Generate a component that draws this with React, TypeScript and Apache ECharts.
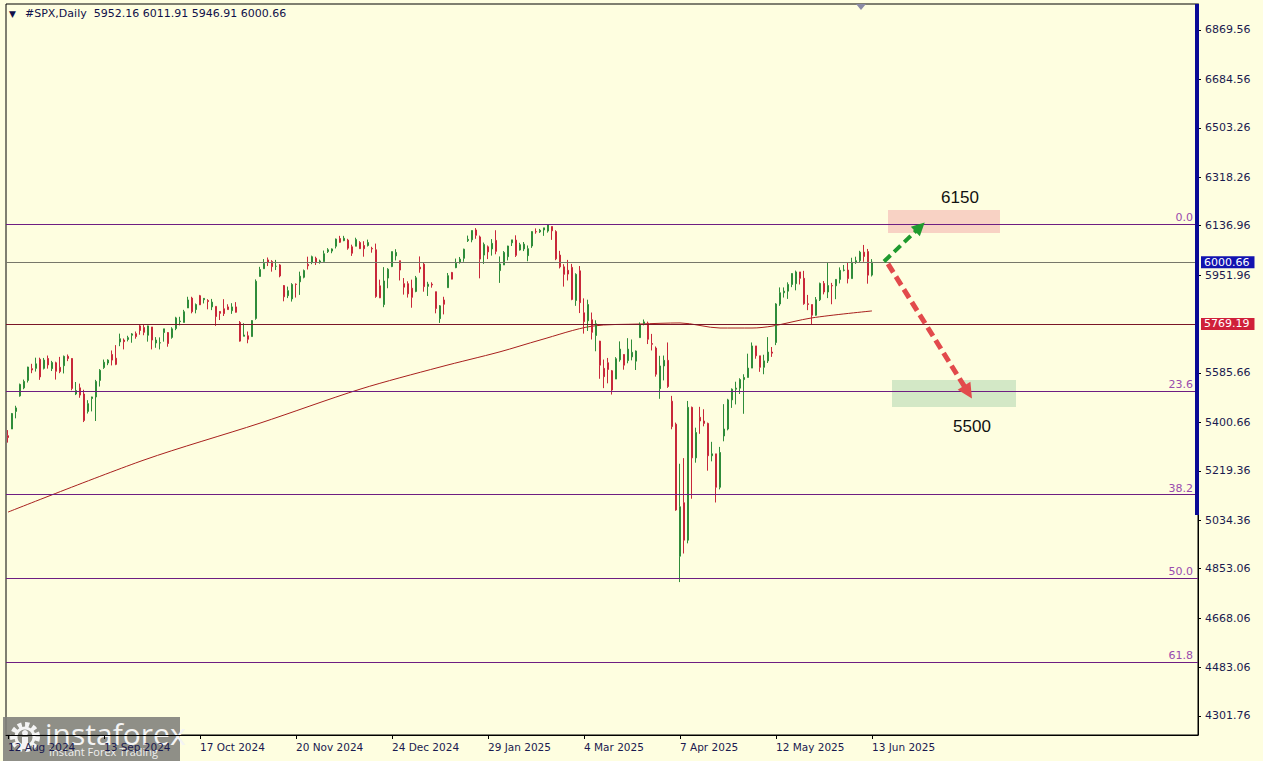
import React, { useEffect, useRef } from 'react';
import * as echarts from 'echarts';

// ---------- DATA (open, high, low, close) ----------
const aug2024 = [
  [5351, 5372, 5325, 5344], [5376, 5436, 5376, 5434], [5442, 5463, 5416, 5455], [5500, 5546, 5497, 5543],
  [5530, 5561, 5525, 5554], [5558, 5609, 5550, 5608], [5602, 5620, 5585, 5597], [5603, 5643, 5591, 5620],
  [5637, 5643, 5560, 5571], [5603, 5642, 5599, 5634], [5640, 5651, 5602, 5616], [5602, 5631, 5593, 5625],
  [5624, 5628, 5561, 5592], [5607, 5646, 5585, 5591], [5613, 5651, 5584, 5648],
];
const sep2024 = [
  [5648, 5655, 5630, 5640], [5640, 5641, 5521, 5528], [5507, 5552, 5503, 5520], [5530, 5546, 5493, 5503],
  [5507, 5523, 5402, 5408], [5442, 5484, 5434, 5471], [5490, 5497, 5442, 5496], [5496, 5560, 5406, 5554],
  [5558, 5600, 5535, 5596], [5606, 5636, 5601, 5626], [5623, 5637, 5615, 5634], [5655, 5670, 5614, 5634],
  [5641, 5690, 5615, 5618], [5702, 5733, 5686, 5714], [5709, 5715, 5674, 5703], [5711, 5725, 5704, 5718],
  [5727, 5735, 5699, 5732], [5733, 5741, 5714, 5722], [5762, 5767, 5729, 5745], [5756, 5765, 5727, 5738],
  [5727, 5763, 5703, 5762],
];
const oct2024 = [
  [5758, 5758, 5674, 5709], [5698, 5720, 5680, 5709], [5698, 5719, 5674, 5699], [5737, 5751, 5703, 5751],
  [5737, 5739, 5684, 5696], [5719, 5757, 5714, 5751], [5752, 5796, 5746, 5792], [5778, 5796, 5764, 5780],
  [5775, 5822, 5775, 5815], [5829, 5871, 5829, 5859], [5866, 5871, 5809, 5815], [5823, 5846, 5809, 5842],
  [5875, 5878, 5840, 5841], [5860, 5866, 5846, 5865], [5857, 5862, 5824, 5853], [5833, 5863, 5821, 5851],
  [5835, 5835, 5762, 5797], [5816, 5817, 5784, 5809], [5826, 5862, 5799, 5808], [5833, 5843, 5823, 5823],
  [5819, 5847, 5807, 5833], [5833, 5851, 5812, 5813], [5775, 5780, 5703, 5705],
];
const nov2024 = [
  [5723, 5772, 5723, 5728], [5725, 5741, 5697, 5712], [5722, 5783, 5722, 5782], [5790, 5936, 5785, 5929],
  [5947, 5983, 5947, 5973], [5976, 6012, 5976, 5996], [6009, 6018, 5986, 6001], [6003, 6008, 5965, 5984],
  [5985, 6009, 5971, 5985], [5990, 5993, 5944, 5949], [5913, 5915, 5854, 5871], [5875, 5909, 5866, 5894],
  [5863, 5922, 5853, 5917], [5918, 5921, 5868, 5917], [5927, 5965, 5878, 5948], [5944, 5973, 5940, 5969],
  [5992, 6021, 5973, 5987], [6000, 6025, 5993, 6021], [6015, 6021, 5990, 5999], [5999, 6010, 5995, 6005],
  [6003, 6044, 6003, 6032],
];
const dec2024 = [
  [6040, 6053, 6035, 6047], [6042, 6052, 6034, 6050], [6060, 6089, 6052, 6087], [6089, 6099, 6073, 6075],
  [6081, 6099, 6079, 6090], [6083, 6088, 6047, 6053], [6058, 6066, 6024, 6034], [6060, 6092, 6060, 6085],
  [6074, 6079, 6051, 6051], [6063, 6079, 6021, 6051], [6063, 6085, 6059, 6074], [6052, 6058, 6036, 6050],
  [6047, 6070, 5867, 5872], [5912, 5935, 5866, 5867], [5842, 5982, 5832, 5930], [5941, 5978, 5903, 5974],
  [5984, 6040, 5982, 6040], [6024, 6049, 6007, 6037], [6006, 6006, 5932, 5971], [5920, 5941, 5879, 5907],
  [5920, 5929, 5868, 5882],
];
const jan2025 = [
  [5903, 5935, 5830, 5869], [5891, 5949, 5888, 5942], [5982, 6022, 5961, 5975], [5993, 6001, 5890, 5909],
  [5910, 5927, 5874, 5918], [5918, 5925, 5905, 5915], [5890, 5890, 5809, 5827], [5789, 5840, 5773, 5837],
  [5859, 5871, 5805, 5843], [5905, 5960, 5905, 5950], [5962, 5964, 5938, 5937], [5980, 6014, 5978, 5997],
  [6000, 6020, 5995, 6012], [6015, 6051, 6002, 6049], [6081, 6100, 6076, 6086], [6084, 6119, 6075, 6119],
  [6121, 6128, 6088, 6101], [6095, 6100, 5940, 6012], [6027, 6074, 5994, 6067], [6058, 6063, 6012, 6039],
  [6050, 6087, 6025, 6071], [6082, 6120, 6030, 6041],
];
const feb2025 = [
  [5969, 6022, 5923, 5994], [5990, 6042, 5990, 6037], [6021, 6062, 6007, 6061], [6073, 6084, 6061, 6084],
  [6083, 6101, 6020, 6026], [6046, 6073, 6044, 6066], [6050, 6076, 6042, 6068], [6025, 6063, 6004, 6051],
  [6061, 6116, 6054, 6115], [6115, 6127, 6107, 6114], [6114, 6125, 6110, 6120], [6121, 6129, 6099, 6129],
  [6117, 6143, 6111, 6141], [6134, 6134, 6084, 6118], [6115, 6120, 6008, 6013], [6027, 6043, 5977, 5983],
  [5983, 5993, 5909, 5955], [5970, 6009, 5932, 5956], [5981, 5994, 5858, 5861], [5857, 5959, 5837, 5955],
];
const mar2025 = [
  [5968, 5986, 5810, 5849], [5811, 5865, 5733, 5778], [5781, 5860, 5743, 5842], [5785, 5812, 5711, 5738],
  [5726, 5783, 5667, 5770], [5705, 5706, 5564, 5615], [5603, 5636, 5529, 5572], [5624, 5642, 5547, 5599],
  [5594, 5597, 5505, 5522], [5563, 5645, 5563, 5639], [5635, 5704, 5628, 5675], [5655, 5656, 5598, 5615],
  [5632, 5716, 5622, 5675], [5646, 5711, 5633, 5663], [5630, 5670, 5597, 5668], [5718, 5775, 5718, 5767],
  [5771, 5786, 5764, 5777], [5772, 5778, 5694, 5712], [5696, 5732, 5670, 5693], [5679, 5685, 5572, 5581],
  [5527, 5650, 5489, 5612],
];
const apr2025 = [
  [5612, 5651, 5558, 5633], [5633, 5700, 5530, 5535], [5480, 5500, 5375, 5385], [5394, 5400, 5070, 5073],
  [4900, 5246, 4803, 5085], [5100, 5267, 4910, 4960], [4960, 5481, 4948, 5457], [5457, 5460, 5115, 5268],
  [5268, 5381, 5250, 5363], [5420, 5459, 5358, 5406], [5406, 5450, 5386, 5397], [5397, 5400, 5220, 5276],
  [5276, 5328, 5255, 5283], [5283, 5283, 5101, 5158], [5158, 5309, 5150, 5288], [5350, 5469, 5330, 5376],
  [5376, 5489, 5371, 5485], [5485, 5528, 5455, 5525], [5525, 5553, 5468, 5529], [5529, 5566, 5507, 5561],
  [5561, 5581, 5433, 5569],
];
const may2025 = [
  [5569, 5658, 5569, 5604], [5604, 5700, 5604, 5687], [5687, 5687, 5639, 5650], [5650, 5650, 5590, 5607],
  [5607, 5654, 5581, 5631], [5631, 5720, 5623, 5664], [5664, 5683, 5646, 5660], [5700, 5847, 5690, 5844],
  [5844, 5906, 5837, 5886], [5886, 5906, 5868, 5892], [5892, 5925, 5863, 5917], [5917, 5959, 5907, 5958],
  [5920, 5969, 5895, 5964], [5964, 5964, 5917, 5940], [5940, 5968, 5841, 5845], [5845, 5878, 5821, 5842],
  [5842, 5842, 5767, 5802], [5802, 5870, 5800, 5860], [5860, 5924, 5855, 5921], [5921, 5930, 5880, 5889],
  [5889, 5999, 5866, 5913], [5913, 5923, 5843, 5912],
];
const jun2025 = [
  [5912, 5937, 5862, 5936], [5936, 5981, 5921, 5970], [5970, 5990, 5966, 5971], [5971, 5999, 5921, 5939],
  [5939, 6017, 5939, 6000], [6000, 6021, 5994, 6006], [6006, 6043, 6000, 6038], [6038, 6065, 6002, 6022],
  [6040, 6050, 5920, 5952], [5952.16, 6011.91, 5946.91, 6000.66],
];

// 200-day moving average, read at points [bar index, value]
const maPoints = [
  [0, 5065], [34, 5260], [63, 5398], [88, 5525], [108, 5608], [123, 5665], [133, 5709], [146, 5761],
  [158, 5769], [168, 5773], [178, 5754], [186, 5754], [191, 5761], [201, 5792], [216, 5818],
];

const fibValues = [6143.0, 5517.1, 5130.0, 4817.0, 4504.1];
const fibLabels = ['0.0', '23.6', '38.2', '50.0', '61.8'];
const bidPrice = 6000.66;
const supportPrice = 5769.19;
const targetUp = 6150;
const targetDown = 5500;

const yTickValues = [6869.56, 6684.56, 6503.26, 6318.26, 6136.96, 5951.96, 5585.66, 5400.66, 5219.36, 5034.36, 4853.06, 4668.06, 4483.06, 4301.76];
const xTickLabels = ['12 Aug 2024', '13 Sep 2024', '17 Oct 2024', '20 Nov 2024', '24 Dec 2024', '29 Jan 2025', '4 Mar 2025', '7 Apr 2025', '12 May 2025', '13 Jun 2025'];
const START_DATE = '2024-08-12';
const CLOSED_DAYS = ['2024-12-25', '2025-01-01', '2025-04-18'];
const header = '#SPX,Daily  5952.16 6011.91 5946.91 6000.66';

const MONTHS = ['Jan', 'Feb', 'Mar', 'Apr', 'May', 'Jun', 'Jul', 'Aug', 'Sep', 'Oct', 'Nov', 'Dec'];
function tradingDays(n: number): string[] {
  const out: string[] = [];
  const d = new Date(START_DATE + 'T00:00:00Z');
  while (out.length < n) {
    const dow = d.getUTCDay();
    const iso = d.toISOString().slice(0, 10);
    if (dow !== 0 && dow !== 6 && !CLOSED_DAYS.includes(iso)) {
      out.push(`${d.getUTCDate()} ${MONTHS[d.getUTCMonth()]} ${d.getUTCFullYear()}`);
    }
    d.setUTCDate(d.getUTCDate() + 1);
  }
  return out;
}

const SLOTS = 298;

export default function App() {
  const ref = useRef<HTMLDivElement>(null);
  useEffect(() => {
    document.body.style.margin = '0';
    if (!ref.current) return;
    const chart = echarts.init(ref.current, undefined, { renderer: 'svg' });
    const bars = [...aug2024, ...sep2024, ...oct2024, ...nov2024, ...dec2024, ...jan2025, ...feb2025, ...mar2025, ...apr2025, ...may2025, ...jun2025];
    const candle = bars.map(([o, h, l, c]) => [o, c, l, h]);
    const dates = tradingDays(SLOTS);
    const n = bars.length;
    const showTick = (_i: number, v: string) => xTickLabels.includes(v);
    const font = 'DejaVu Sans, Tahoma, sans-serif';

    const fibLines = fibValues.map((v, i) => ({
      yAxis: v,
      lineStyle: { color: '#6e1e82', width: 1, type: 'solid' },
      label: { show: true, position: 'insideEndTop', formatter: fibLabels[i], color: '#9a4cae', fontSize: 11, fontFamily: font, distance: [5, 1] },
    }));

    chart.setOption({
      animation: false,
      backgroundColor: '#fefee0',
      grid: { left: 6, right: 65, top: 4, bottom: 26, show: true, borderColor: '#000', borderWidth: 1, backgroundColor: 'transparent' },
      xAxis: {
        type: 'category',
        data: dates,
        boundaryGap: true,
        axisLine: { show: true, lineStyle: { color: '#000', width: 1 } },
        axisTick: { show: true, interval: showTick, alignWithLabel: true, length: 4, lineStyle: { color: '#000' } },
        axisLabel: { interval: showTick, align: 'left', margin: 6, color: '#1a1a50', fontSize: 10.5, fontFamily: font },
        splitLine: { show: false },
      },
      yAxis: {
        type: 'value',
        position: 'right',
        min: 4230.64,
        max: 6966.88,
        scale: true,
        axisLine: { show: true, lineStyle: { color: '#000', width: 1 } },
        axisTick: { show: true, customValues: yTickValues, length: 3, lineStyle: { color: '#000' } },
        axisLabel: { customValues: yTickValues, formatter: (v: number) => v.toFixed(2), margin: 7, color: '#1a1a50', fontSize: 11, fontFamily: font },
        splitLine: { show: false },
      },
      series: [
        {
          type: 'candlestick',
          data: candle,
          barWidth: 2,
          itemStyle: { color: '#2f8c3a', color0: '#c8283a', borderColor: '#2f8c3a', borderColor0: '#c8283a', borderWidth: 1 },
          markArea: {
            silent: true,
            data: [
              [
                { coord: [n + 3, 6196], itemStyle: { color: '#f8d2c4' }, label: { show: true, position: 'top', formatter: String(targetUp), offset: [16, 0], distance: 4, color: '#111', fontSize: 17, fontFamily: 'Liberation Sans, Arial, sans-serif' } },
                { coord: [n + 31, 6110] },
              ],
              [
                { coord: [n + 4, 5559], itemStyle: { color: '#d3e8c6' }, label: { show: true, position: 'bottom', formatter: String(targetDown), offset: [18, 0], distance: 11, color: '#111', fontSize: 17, fontFamily: 'Liberation Sans, Arial, sans-serif' } },
                { coord: [n + 35, 5458] },
              ],
            ],
          },
          markLine: {
            silent: true,
            symbol: ['none', 'none'],
            data: [
              ...fibLines,
              { yAxis: bidPrice, lineStyle: { color: '#77776a', width: 1, type: 'solid' }, label: { show: true, position: 'end', formatter: bidPrice.toFixed(2), backgroundColor: '#1212b0', color: '#fff', fontSize: 11, fontFamily: font, padding: [1, 5, 0, 3], distance: 3 } },
              { yAxis: supportPrice, lineStyle: { color: '#7a1628', width: 1, type: 'solid' }, label: { show: true, position: 'end', formatter: supportPrice.toFixed(2), backgroundColor: '#d0203a', color: '#fff', fontSize: 11, fontFamily: font, padding: [1, 5, 0, 3], distance: 3 } },
              [
                { coord: [n + 2, 6003], symbol: 'none', lineStyle: { color: '#1f9a2e', width: 4, type: [9, 5] }, label: { show: false } },
                { coord: [n + 11, 6132], symbol: 'triangle', symbolSize: [13, 13] },
              ],
              [
                { coord: [n + 3, 5994], symbol: 'none', lineStyle: { color: '#e24a4c', width: 5, type: [10, 5] }, label: { show: false } },
                { coord: [n + 23, 5514], symbol: 'triangle', symbolSize: [15, 15] },
              ],
            ],
          },
          z: 3,
        },
        {
          type: 'line',
          data: maPoints,
          showSymbol: false,
          symbol: 'none',
          smooth: 0.3,
          lineStyle: { color: '#a8201e', width: 1 },
          z: 2,
          silent: true,
        },
      ],
      graphic: [
        { type: 'line', shape: { x1: 1197, y1: 4, x2: 1197, y2: 515 }, style: { stroke: '#0a0a96', lineWidth: 4 }, z: 50 },
        { type: 'polygon', shape: { points: [[856, 4], [866, 4], [861, 10]] }, style: { fill: '#8a8aa6' }, z: 50 },
        { type: 'text', x: 9, y: 9, style: { text: '▼', font: '9px DejaVu Sans', fill: '#10104a' }, z: 50 },
        { type: 'text', x: 25, y: 8, style: { text: header, font: '11px DejaVu Sans', fill: '#10104a' }, z: 50 },
        {
          type: 'group', x: 3, y: 717, z: 60,
          children: [
            { type: 'rect', shape: { x: 0, y: 0, width: 177, height: 44 }, style: { fill: 'rgba(128,128,122,0.88)' } },
            { type: 'circle', shape: { cx: 22, cy: 20, r: 12 }, style: { fill: 'none', stroke: '#f4f4f4', lineWidth: 6, lineDash: [4, 3] } },
            { type: 'circle', shape: { cx: 22, cy: 20, r: 9 }, style: { fill: 'none', stroke: '#f4f4f4', lineWidth: 3 } },
            { type: 'circle', shape: { cx: 22, cy: 16, r: 3 }, style: { fill: '#f4f4f4' } },
            { type: 'rect', shape: { x: 19, y: 20, width: 6, height: 12 }, style: { fill: '#f4f4f4' } },
            { type: 'text', x: 42, y: 1, style: { text: 'instaforex', font: '30px Open Sans', fill: '#f4f4f4' } },
            { type: 'text', x: 46, y: 29, style: { text: 'Instant Forex Trading', font: '11px Open Sans', fill: '#f0f0f0' } },
          ],
        },
      ],
    });
    return () => chart.dispose();
  }, []);
  return <div ref={ref} style={{ width: 1263, height: 761, position: 'fixed', left: 0, top: 0 }} />;
}
